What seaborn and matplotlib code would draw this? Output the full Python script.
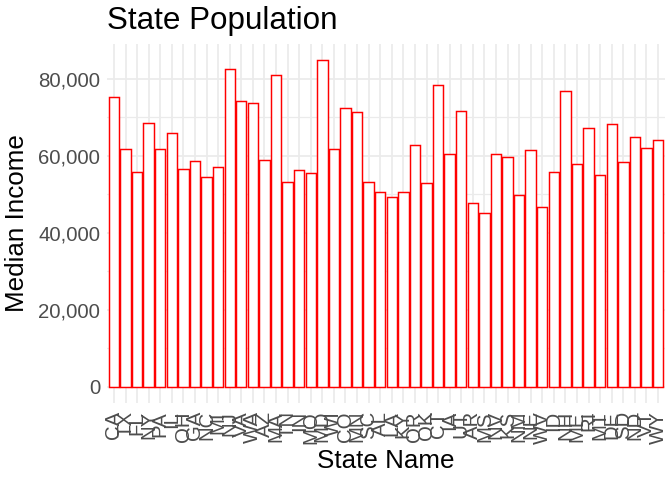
import matplotlib
matplotlib.use("Agg")
import matplotlib.pyplot as plt
import seaborn as sns
import pandas as pd
from matplotlib.ticker import FuncFormatter, MultipleLocator

states = ["CA", "TX", "FL", "NY", "PA", "IL", "OH", "GA", "NC", "MI",
          "NJ", "VA", "WA", "AZ", "MA", "TN", "IN", "MO", "MD", "WI",
          "CO", "MN", "SC", "AL", "LA", "KY", "OR", "OK", "CT", "IA",
          "UT", "AR", "MS", "NV", "KS", "NM", "NE", "WV", "ID", "NH",
          "ME", "RI", "MT", "DE", "SD", "ND", "VT", "WY"]
median_income = [75200, 61800, 55700, 68500, 61700, 65900, 56500, 58700, 54500, 57100,
                 82500, 74200, 73800, 58900, 81100, 53200, 56300, 55500, 84800, 61700,
                 72300, 71300, 53200, 50600, 49400, 50700, 62900, 53000, 78400, 60500,
                 71600, 47600, 45100, 60400, 59600, 49700, 61400, 46800, 55800, 76800,
                 57900, 67200, 54900, 68200, 58300, 64900, 61900, 64000]

df = pd.DataFrame({"State Name": states, "Median Income": median_income})

sns.set_theme(style="whitegrid")
plt.rcParams["font.family"] = ["Liberation Sans", "DejaVu Sans"]

fig = plt.figure(figsize=(7, 5), dpi=96)
ax = fig.add_axes([107 / 672, 1 - 403 / 480, (665 - 107) / 672, (403 - 44) / 480])

sns.barplot(data=df, x="State Name", y="Median Income", order=states,
            color="white", edgecolor="red", linewidth=1.1, width=0.9,
            saturation=1, ax=ax)

n = len(states)
ax.set_xlim(-0.6, n - 1 + 0.6)
ymax = max(median_income)
ax.set_ylim(-0.05 * ymax, 1.05 * ymax)

ax.yaxis.set_major_locator(MultipleLocator(20000))
ax.yaxis.set_minor_locator(MultipleLocator(10000))
ax.yaxis.set_major_formatter(FuncFormatter(lambda v, p: f"{int(v):,}"))

ax.set_facecolor("white")
for s in ax.spines.values():
    s.set_visible(False)
ax.set_axisbelow(True)
ax.grid(False)
ax.grid(True, axis="x", which="major", color="#EBEBEB", linewidth=1.3)
ax.grid(True, axis="y", which="major", color="#EBEBEB", linewidth=1.3)
ax.grid(True, axis="y", which="minor", color="#EBEBEB", linewidth=0.9)

ax.tick_params(axis="both", which="both", length=0)
ax.tick_params(axis="y", labelsize=15.3, labelcolor="#4D4D4D", pad=5)
ax.tick_params(axis="x", labelsize=15.3, labelcolor="#4D4D4D", pad=6, labelrotation=90)

ax.set_xlabel("State Name", fontsize=19.5, color="black", labelpad=4)
ax.set_ylabel("Median Income", fontsize=19.5, color="black", labelpad=7)
ax.set_title("State Population", loc="left", fontsize=23.5, color="black", pad=11)

fig.savefig("out.png", dpi=96, facecolor="white")
